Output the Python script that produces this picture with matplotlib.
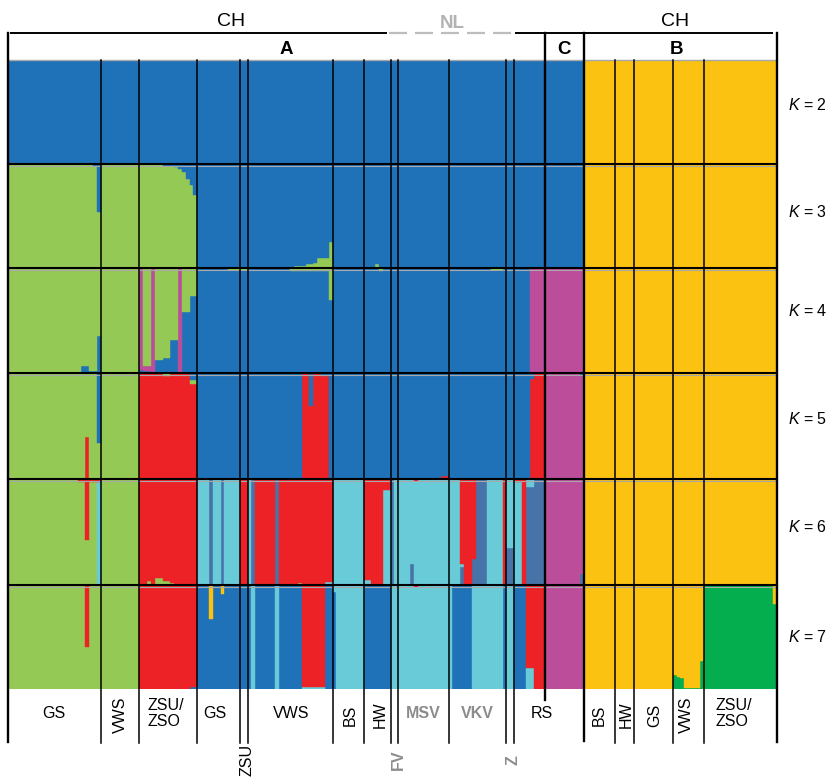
import numpy as np
import matplotlib
matplotlib.use("Agg")
import matplotlib.pyplot as plt

plt.rcParams['font.family'] = ['Liberation Sans', 'DejaVu Sans']
plt.rcParams['mathtext.fontset'] = 'custom'
plt.rcParams['mathtext.it'] = 'Liberation Sans:italic'
plt.rcParams['mathtext.rm'] = 'Liberation Sans'

# ---------------- data ----------------
pop_labels = ["GS", "VWS", "ZSU/\nZSO", "GS", "ZSU", "VWS", "BS", "HW", "FV", "MSV",
              "VKV", "Z", "RS", "BS", "HW", "GS", "VWS", "ZSU/\nZSO"]
pop_sizes = [24, 10, 15, 11, 2, 22, 8, 7, 2, 13, 15, 2, 18, 8, 5, 10, 8, 19]
label_rotated = [0, 1, 0, 0, 1, 0, 1, 1, 1, 0, 0, 1, 0, 1, 1, 1, 1, 0]
label_grey = [0, 0, 0, 0, 0, 0, 0, 0, 1, 1, 1, 1, 0, 0, 0, 0, 0, 0]
label_below = [0, 0, 0, 0, 1, 0, 0, 0, 1, 0, 0, 1, 0, 0, 0, 0, 0, 0]

clade_labels = ["A", "C", "B"]
clade_sizes = [139, 10, 50]
country_labels = ["CH", "NL", "CH"]
country_sizes = [99, 32, 68]

cluster_colors = {
    "blu": "#1F71B8", "grn": "#95C956", "yel": "#FCC212", "mag": "#BB4D9B",
    "red": "#EC2227", "cyn": "#6ACBD8", "stl": "#4773A8", "dgr": "#04AE4E",
}

K_values = [2, 3, 4, 5, 6, 7]

# stacking order (bottom -> top)
K2_order = ["blu", "yel"]
K3_order = ["grn", "blu", "yel"]
K4_order = ["blu", "mag", "grn", "yel"]
K5_order = ["red", "grn", "mag", "blu", "yel"]
K6_order = ["stl", "grn", "cyn", "mag", "red", "yel"]
K7_order = ["dgr", "blu", "grn", "cyn", "red", "mag", "yel"]

# main cluster of each population
K2_base = ["blu"] * 13 + ["yel"] * 5
K3_base = ["grn"] * 3 + ["blu"] * 10 + ["yel"] * 5
K4_base = ["grn"] * 3 + ["blu"] * 10 + ["yel"] * 5
K5_base = ["grn", "grn", "red"] + ["blu"] * 10 + ["yel"] * 5
K6_base = ["grn", "grn", "red", "cyn", "red", "red", "cyn", "red", "cyn", "cyn",
           "cyn", "cyn", "mag", "yel", "yel", "yel", "yel", "yel"]
K7_base = ["grn", "grn", "red", "blu", "blu", "blu", "cyn", "blu", "cyn", "cyn",
           "cyn", "cyn", "mag", "yel", "yel", "yel", "yel", "dgr"]

# admixed individuals: (first, last, {cluster: q}); remainder goes to the base cluster
K2_exc = []
K3_exc = [
    (22, 22, {"blu": 0.02}), (23, 23, {"blu": 0.46}),
    (40, 42, {"blu": 0.02}), (43, 43, {"blu": 0.03}), (44, 44, {"blu": 0.05}),
    (45, 45, {"blu": 0.08}), (46, 46, {"blu": 0.14}), (47, 47, {"blu": 0.20}),
    (48, 48, {"blu": 0.30}),
    (74, 76, {"grn": 0.02}), (77, 78, {"grn": 0.035}), (79, 79, {"grn": 0.05}),
    (80, 82, {"grn": 0.10}), (83, 83, {"grn": 0.25}), (95, 95, {"grn": 0.04}),
]
K4_exc = [
    (19, 20, {"blu": 0.07}), (21, 22, {"blu": 0.02}), (23, 23, {"blu": 0.35}),
    (34, 34, {"mag": 0.97, "blu": 0.03}), (35, 36, {"mag": 0.05, "blu": 0.02}),
    (37, 37, {"mag": 1.0}), (38, 39, {"blu": 0.12}), (40, 41, {"blu": 0.14}),
    (42, 43, {"blu": 0.31}), (44, 44, {"mag": 1.0}), (45, 46, {"blu": 0.58}),
    (47, 48, {"blu": 0.73}),
    (57, 61, {"grn": 0.015}), (73, 82, {"grn": 0.025}), (83, 83, {"grn": 0.30}),
    (96, 96, {"grn": 0.03}), (125, 127, {"grn": 0.015}),
    (135, 148, {"mag": 1.0}),
]
K5_exc = [
    (20, 20, {"red": 0.40}), (23, 23, {"blu": 0.66}),
    (40, 41, {"grn": 0.03}), (47, 48, {"grn": 0.03, "blu": 0.07}),
    (76, 77, {"red": 1.0}), (78, 78, {"red": 0.69}), (79, 80, {"red": 1.0}),
    (81, 82, {"red": 0.97}),
    (112, 113, {"red": 0.03}),
    (135, 135, {"red": 0.94}), (136, 138, {"red": 1.0}),
    (139, 147, {"mag": 1.0}), (148, 148, {"mag": 0.97}),
]
K6_exc = [
    (18, 19, {"red": 0.03}), (20, 20, {"red": 0.58}), (21, 22, {"red": 0.03}),
    (23, 23, {"cyn": 0.97, "red": 0.03}),
    (36, 36, {"grn": 0.04}), (38, 39, {"grn": 0.07}), (40, 41, {"grn": 0.04}),
    (42, 42, {"grn": 0.02}),
    (52, 52, {"stl": 1.0}), (55, 55, {"stl": 1.0}),
    (62, 62, {"cyn": 1.0}), (63, 63, {"stl": 1.0}), (69, 69, {"stl": 1.0}),
    (75, 75, {"grn": 0.02}), (82, 83, {"cyn": 0.03}),
    (92, 93, {"cyn": 0.05}), (97, 98, {"cyn": 0.90}),
    (99, 99, {"stl": 1.0}),
    (104, 104, {"stl": 0.20}), (105, 105, {"red": 0.02}),
    (117, 117, {"red": 0.80, "stl": 0.17}), (118, 119, {"red": 1.0}),
    (120, 120, {"red": 0.75, "stl": 0.25}), (121, 123, {"stl": 1.0}),
    (128, 128, {"red": 1.0}),
    (129, 130, {"stl": 0.35}),
    (131, 132, {"cyn": 0.97, "red": 0.03}), (133, 133, {"red": 1.0}),
    (134, 135, {"stl": 0.92, "cyn": 0.08}), (136, 138, {"stl": 1.0}),
    (148, 148, {"stl": 0.10}),
]
K7_exc = [
    (20, 20, {"red": 0.60}), (47, 48, {"blu": 0.02}),
    (52, 52, {"yel": 0.33}), (55, 55, {"yel": 0.09}),
    (63, 63, {"cyn": 1.0}), (69, 69, {"cyn": 1.0}),
    (76, 81, {"red": 0.98, "cyn": 0.02}),
    (84, 84, {"blu": 0.93}), (105, 105, {"red": 0.02}),
    (115, 119, {"blu": 1.0}), (128, 128, {"blu": 1.0}),
    (131, 133, {"blu": 1.0}), (134, 135, {"red": 0.80, "cyn": 0.20}),
    (136, 138, {"red": 1.0}),
    (172, 172, {"dgr": 0.13}), (173, 173, {"dgr": 0.12}), (174, 174, {"dgr": 0.11}),
    (175, 178, {"dgr": 0.01}), (179, 179, {"dgr": 0.27}),
    (198, 198, {"yel": 0.18}),
]

K_orders = {2: K2_order, 3: K3_order, 4: K4_order, 5: K5_order, 6: K6_order, 7: K7_order}
K_bases = {2: K2_base, 3: K3_base, 4: K4_base, 5: K5_base, 6: K6_base, 7: K7_base}
K_excs = {2: K2_exc, 3: K3_exc, 4: K4_exc, 5: K5_exc, 6: K6_exc, 7: K7_exc}

# ---------------- layout ----------------
W, H = 827, 780
X0, X1 = 8, 777
row_edges = [60, 164, 268, 373, 479, 585, 689]
K_label_y = [105, 212, 311, 419, 527, 637]

n_ind = int(np.sum(pop_sizes))
upx = (X1 - X0) / n_ind


def px2u(px):
    return (px - X0) / upx


def build_q(base, exc, order):
    base_ind = np.repeat(base, pop_sizes)
    q = np.zeros((n_ind, len(order)))
    for i, b in enumerate(base_ind):
        q[i, order.index(b)] = 1.0
    for first, last, comp in exc:
        for i in range(first, last + 1):
            row = np.zeros(len(order))
            for c, v in comp.items():
                row[order.index(c)] = v
            rem = 1.0 - row.sum()
            if rem > 1e-9:
                row[order.index(base_ind[i])] += rem
            q[i] = row
    return q


fig = plt.figure(figsize=(W / 100, H / 100), dpi=100)

x = np.arange(n_ind)
for r, K in enumerate(K_values):
    yt, yb = row_edges[r], row_edges[r + 1]
    ax = fig.add_axes([X0 / W, 1 - yb / H, (X1 - X0) / W, (yb - yt) / H])
    order = K_orders[K]
    q = build_q(K_bases[K], K_excs[K], order)
    bottom = np.zeros(n_ind)
    for k, c in enumerate(order):
        h = q[:, k]
        m = h > 0
        col = cluster_colors[c]
        ax.bar(x[m], h[m], bottom=bottom[m], width=1.0, align='edge',
               color=col, edgecolor=col, linewidth=0.3)
        bottom += h
    ax.set_xlim(0, n_ind)
    ax.set_ylim(0, 1)
    ax.axis('off')

# overlay for lines and text
ov = fig.add_axes([0, 0, 1, 1], zorder=10)
ov.set_xlim(px2u(0), px2u(W))
ov.set_ylim(H, 0)
ov.axis('off')
ov.patch.set_alpha(0)

bounds = np.cumsum([0] + pop_sizes)
clade_bounds = np.cumsum([0] + clade_sizes)
country_bounds = np.cumsum([0] + country_sizes)

# row separators
ov.plot([0, n_ind], [row_edges[0], row_edges[0]], color="#A8A8A8", lw=1.0)
for y in row_edges[1:-1]:
    ov.plot([0, n_ind], [y + 1.6, y + 1.6], color="#A8A8A8", lw=0.8)
    ov.plot([0, n_ind], [y, y], color="black", lw=1.5)

# population boundaries
for b in bounds[1:-1]:
    if b in clade_bounds:
        continue
    ov.plot([b, b], [row_edges[0], 743], color="black", lw=1.1)
# clade boundaries
ov.plot([clade_bounds[1], clade_bounds[1]], [33, 700], color="black", lw=1.7)
ov.plot([clade_bounds[2], clade_bounds[2]], [33, 741], color="black", lw=1.7)
# borders
ov.plot([0, 0], [33, 742], color="black", lw=1.7)
ov.plot([n_ind, n_ind], [33, 742], color="black", lw=1.7)

# country lines
gap = 0.3
ov.plot([country_bounds[0] + 0.5, country_bounds[1] - 1.0], [33, 33], color="black", lw=1.4,
        solid_capstyle='butt')
ov.plot([country_bounds[1] - 0.5, country_bounds[2] - gap], [33, 33], color="#BDBDBD", lw=1.6,
        dashes=(8.1, 3.6))
ov.plot([country_bounds[2] + gap, country_bounds[3] - 1.0], [33, 33], color="black", lw=1.4,
        solid_capstyle='butt')

country_dx = [32, 0, 29]
for i, lab in enumerate(country_labels):
    cx = (country_bounds[i] + country_bounds[i + 1]) / 2 + country_dx[i] / upx
    if lab == "NL":
        ov.text(cx, 28, lab, ha='center', va='baseline', fontsize=13.5,
                fontweight='bold', color="#B3B3B3")
    else:
        ov.text(cx, 26, lab, ha='center', va='baseline', fontsize=14, color="black")

clade_dx = [10, 0, -4]
for i, lab in enumerate(clade_labels):
    cx = (clade_bounds[i] + clade_bounds[i + 1]) / 2 + clade_dx[i] / upx
    ov.text(cx, 54, lab, ha='center', va='baseline', fontsize=13.5, fontweight='bold')

# K labels
for K, y in zip(K_values, K_label_y):
    ov.text(px2u(788), y, "$K$ = %d" % K, ha='left', va='center', fontsize=11.5)

# population labels
label_dx = [0, 0, -3, -4, 3, 1, 2, 3, 3.5, 0, 0, 3, -7.5, 0, 1.5, 1.5, -2, -6]
for i, lab in enumerate(pop_labels):
    cx = (bounds[i] + bounds[i + 1]) / 2 + label_dx[i] / upx
    col = "#8C8C8C" if label_grey[i] else "black"
    fw = 'bold' if label_grey[i] else 'normal'
    if label_below[i]:
        ov.text(cx, 760, lab, ha='center', va='center', rotation=90, fontsize=11.5,
                color=col, fontweight=fw)
    elif label_rotated[i]:
        ov.text(cx, 715, lab, ha='center', va='center', rotation=90, fontsize=11.5,
                color=col, fontweight=fw)
    elif "\n" in lab:
        ov.text(cx, 713.5, lab, ha='center', va='center', fontsize=11.5, color=col,
                fontweight=fw, multialignment='left', linespacing=1.0)
    else:
        ov.text(cx, 718.5, lab, ha='center', va='baseline', fontsize=11.5, color=col,
                fontweight=fw)

fig.savefig("out.png", dpi=100)
